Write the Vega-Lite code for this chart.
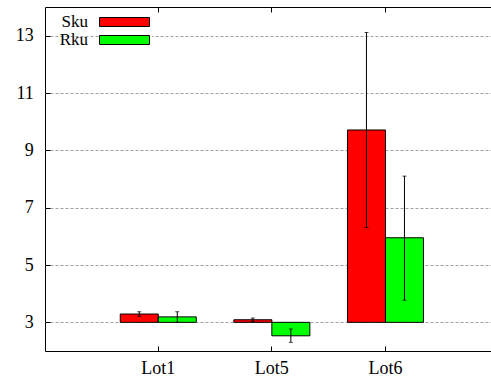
{
  "$schema": "https://vega.github.io/schema/vega-lite/v6.json",
  "width": 446,
  "height": 344,
  "autosize": "none",
  "padding": {"left": 45, "top": 7, "right": 0, "bottom": 32},
  "background": "#ffffff",
  "config": {
    "font": "Liberation Serif",
    "view": {"stroke": "#000000", "strokeWidth": 1}
  },
  "data": {
    "values": [
      {"lot": "Lot1", "series": "Sku", "value": 3.29, "lo": 3.21, "hi": 3.37},
      {"lot": "Lot1", "series": "Rku", "value": 3.19, "lo": 3.0, "hi": 3.37},
      {"lot": "Lot5", "series": "Sku", "value": 3.09, "lo": 3.03, "hi": 3.15},
      {"lot": "Lot5", "series": "Rku", "value": 2.53, "lo": 2.3, "hi": 2.77},
      {"lot": "Lot6", "series": "Sku", "value": 9.71, "lo": 6.31, "hi": 13.11},
      {"lot": "Lot6", "series": "Rku", "value": 5.95, "lo": 3.77, "hi": 8.1}
    ]
  },
  "encoding": {
    "x": {"field": "lot", "type": "nominal", "sort": ["Lot1", "Lot5", "Lot6"],
          "scale": {"paddingInner": 0.331, "paddingOuter": 0.6285, "align": 0.527},
          "axis": null},
    "xOffset": {"field": "series", "type": "nominal", "sort": ["Sku", "Rku"],
                "scale": {"domain": ["Sku", "Rku"], "paddingInner": 0, "paddingOuter": 0}}
  },
  "resolve": {"axis": {"x": "independent"}},
  "layer": [
    {
      "mark": {"type": "bar", "stroke": "#000000", "strokeWidth": 1},
      "encoding": {
        "x": {"field": "lot", "type": "nominal", "sort": ["Lot1", "Lot5", "Lot6"],
              "scale": {"paddingInner": 0.331, "paddingOuter": 0.6285, "align": 0.527},
              "axis": {"orient": "bottom", "title": null, "domain": false, "tickSize": -5, "tickColor": "#000000",
                       "labelPadding": 13.2, "labelFontSize": 18, "labelColor": "#000000", "labelAngle": 0,
                       "labelFont": "Liberation Serif"}},
        "y": {"field": "value", "type": "quantitative",
              "scale": {"domain": [2, 14], "nice": false, "zero": false},
              "axis": {"values": [3, 5, 7, 9, 11, 13], "title": null, "grid": true, "gridDash": [3, 2],
                       "gridColor": "#a0a0a0", "gridOpacity": 1, "gridWidth": 1, "domain": false,
                       "tickSize": -5, "tickColor": "#000000", "labelPadding": 16.7, "labelFontSize": 18,
                       "labelColor": "#000000", "labelFont": "Liberation Serif"}},
        "y2": {"datum": 3},
        "color": {"field": "series", "type": "nominal",
                  "scale": {"domain": ["Sku", "Rku"], "range": ["#ff0000", "#00ff00"]},
                  "legend": {"title": null, "orient": "none", "legendX": 71, "legendY": 6.5, "padding": 0,
                             "symbolType": "M-5,-0.9H5V0.9H-5Z", "symbolSize": 100,
                             "symbolStrokeColor": "#000000", "symbolStrokeWidth": 1, "symbolOpacity": 1,
                             "labelAlign": "right", "labelOffset": -45, "labelFontSize": 17,
                             "labelFont": "Liberation Serif", "labelColor": "#000000",
                             "rowPadding": 0, "fillColor": "#ffffff"}}
      }
    },
    {
      "mark": {"type": "rule", "color": "#000000", "strokeWidth": 1},
      "encoding": {
        "x": {"field": "lot", "type": "nominal", "sort": ["Lot1", "Lot5", "Lot6"],
              "scale": {"paddingInner": 0.331, "paddingOuter": 0.6285, "align": 0.527},
              "axis": {"orient": "top", "title": null, "labels": false, "domain": false, "tickSize": -5,
                       "tickColor": "#000000"}},
        "y": {"field": "lo", "type": "quantitative"},
        "y2": {"field": "hi"}
      }
    },
    {
      "mark": {"type": "tick", "color": "#000000", "size": 4, "thickness": 1},
      "encoding": {"y": {"field": "lo", "type": "quantitative"}}
    },
    {
      "mark": {"type": "tick", "color": "#000000", "size": 4, "thickness": 1},
      "encoding": {"y": {"field": "hi", "type": "quantitative"}}
    }
  ]
}
